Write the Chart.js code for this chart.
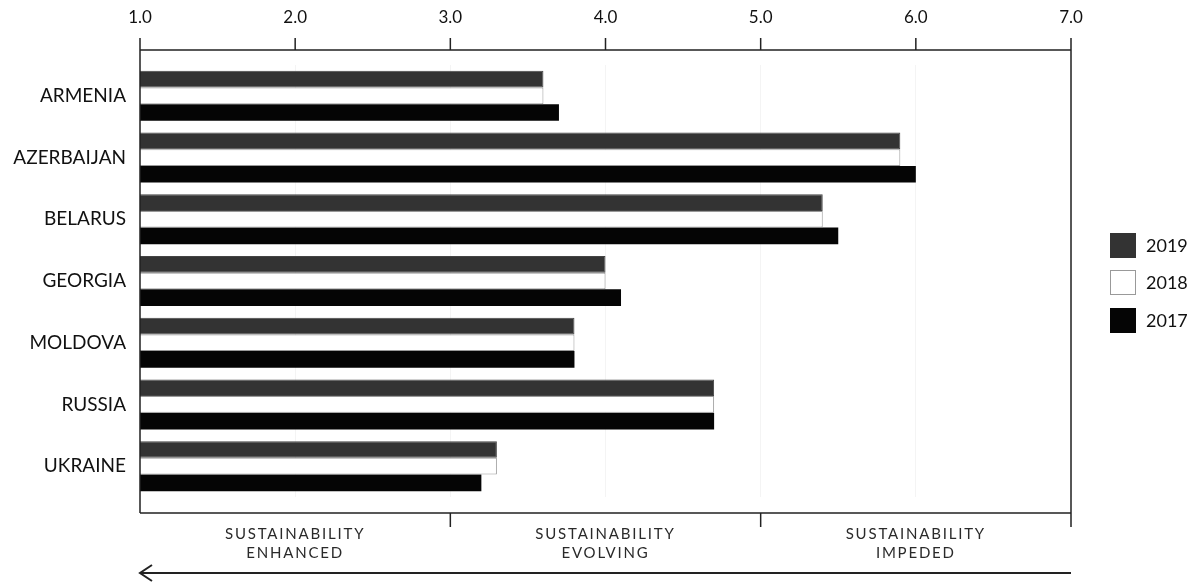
<!DOCTYPE html>
<html><head><meta charset="utf-8">
<script src="https://cdn.jsdelivr.net/npm/chart.js@4"></script>
<style>html,body{margin:0;padding:0;background:#fff}</style>
</head><body>
<canvas id="c" width="1195" height="582"></canvas>
<script>
const countries = ['ARMENIA','AZERBAIJAN','BELARUS','GEORGIA','MOLDOVA','RUSSIA','UKRAINE'];
const years = ['2019','2018','2017'];
const values2019 = [3.6, 5.9, 5.4, 4.0, 3.8, 4.7, 3.3];
const values2018 = [3.6, 5.9, 5.4, 4.0, 3.8, 4.7, 3.3];
const values2017 = [3.7, 6.0, 5.5, 4.1, 3.8, 4.7, 3.2];
const xMin = 1, xMax = 7;
const zoneBounds = [1, 3, 5, 7];
const zoneLabels = [['SUSTAINABILITY','ENHANCED'],['SUSTAINABILITY','EVOLVING'],['SUSTAINABILITY','IMPEDED']];

const FONT = 'Lato, "Open Sans", sans-serif';

const framePlugin = {
  id: 'frame',
  afterDraw(chart) {
    const ctx = chart.ctx, x = chart.scales.x;
    const top = 50, bottom = 513;
    const L = x.getPixelForValue(xMin), R = x.getPixelForValue(xMax);
    ctx.save();
    ctx.strokeStyle = '#222';
    ctx.lineWidth = 1.5;
    ctx.beginPath();
    ctx.moveTo(L, top); ctx.lineTo(R, top);
    ctx.moveTo(L, top); ctx.lineTo(L, bottom);
    ctx.moveTo(R, top); ctx.lineTo(R, bottom);
    ctx.moveTo(L, bottom); ctx.lineTo(R, bottom);
    for (let v = xMin; v <= xMax; v++) {
      const px = x.getPixelForValue(v);
      ctx.moveTo(px, top - 12); ctx.lineTo(px, top);
    }
    zoneBounds.slice(1).forEach(v => {
      const px = x.getPixelForValue(v);
      ctx.moveTo(px, bottom); ctx.lineTo(px, bottom + 14);
    });
    ctx.stroke();
    // zone labels
    ctx.fillStyle = '#2a2a2a';
    ctx.font = '15px ' + FONT;
    ctx.textAlign = 'center';
    ctx.textBaseline = 'middle';
    try { ctx.letterSpacing = '1.8px'; } catch(e) {}
    for (let i = 0; i < zoneLabels.length; i++) {
      const cx = (x.getPixelForValue(zoneBounds[i]) + x.getPixelForValue(zoneBounds[i+1])) / 2;
      ctx.fillText(zoneLabels[i][0], cx, 534);
      ctx.fillText(zoneLabels[i][1], cx, 553);
    }
    try { ctx.letterSpacing = '0px'; } catch(e) {}
    // arrow
    ctx.lineWidth = 2;
    ctx.strokeStyle = '#222';
    ctx.beginPath();
    ctx.moveTo(R, 573); ctx.lineTo(L, 573);
    ctx.moveTo(L + 12, 565); ctx.lineTo(L, 573); ctx.lineTo(L + 12, 581);
    ctx.stroke();
    // legend
    const tops = [233, 270, 308];
    chart.data.datasets.forEach((ds, i) => {
      ctx.fillStyle = ds.backgroundColor;
      ctx.fillRect(1110, tops[i], 26, 25);
      ctx.lineWidth = 1;
      ctx.strokeStyle = i === 1 ? '#999' : ds.backgroundColor;
      ctx.strokeRect(1110.5, tops[i] + 0.5, 25, 24);
      ctx.fillStyle = '#111';
      ctx.font = '18px ' + FONT;
      ctx.textAlign = 'left';
      ctx.textBaseline = 'middle';
      ctx.fillText(ds.label, 1146, tops[i] + 13);
    });
    ctx.restore();
  }
};

new Chart(document.getElementById('c'), {
  type: 'bar',
  data: {
    labels: countries,
    datasets: [
      { label: years[0], data: values2019, backgroundColor: '#333333', borderColor: '#444', borderWidth: 1 },
      { label: years[1], data: values2018, backgroundColor: '#ffffff', borderColor: '#999', borderWidth: 1 },
      { label: years[2], data: values2017, backgroundColor: '#050505', borderColor: '#050505', borderWidth: 0 }
    ]
  },
  options: {
    indexAxis: 'y',
    responsive: false,
    animation: false,
    devicePixelRatio: 1,
    layout: { padding: { left: 0, right: 124, top: 0, bottom: 85 } },
    datasets: { bar: { categoryPercentage: 0.81, barPercentage: 1.0 } },
    plugins: { legend: { display: false }, tooltip: { enabled: false } },
    scales: {
      x: {
        type: 'linear', position: 'top', min: xMin, max: xMax,
        afterFit(s) { s.height = 65; },
        ticks: { stepSize: 1, callback: v => Number(v).toFixed(1), color: '#111', font: { family: FONT, size: 17 }, padding: 37, maxRotation: 0 },
        grid: { drawTicks: false, color: '#f4f4f4', lineWidth: 1 },
        border: { display: false }
      },
      y: {
        type: 'category', position: 'left',
        afterFit(s) { s.width = 140; },
        ticks: { color: '#111', font: { family: FONT, size: 19 }, padding: 14 },
        grid: { display: false, drawTicks: false },
        border: { display: false }
      }
    }
  },
  plugins: [framePlugin]
});
</script>
</body></html>
